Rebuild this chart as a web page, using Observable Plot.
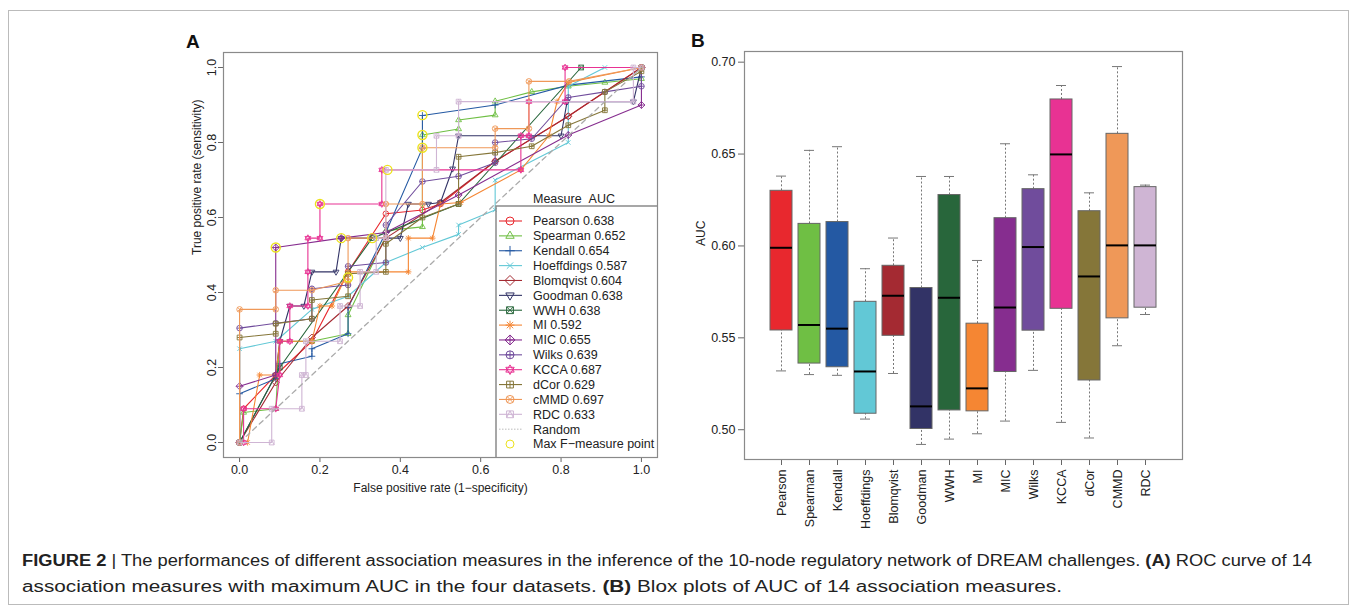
<!DOCTYPE html>
<html><head><meta charset="utf-8">
<script src="https://cdn.jsdelivr.net/npm/d3@7"></script>
<script src="https://cdn.jsdelivr.net/npm/@observablehq/plot@0.6"></script>
<style>
body{margin:0;background:#fff;width:1358px;height:612px;overflow:hidden;position:relative;font-family:"Liberation Sans",Arial,sans-serif;}
#border{position:absolute;left:8px;top:10px;width:1341px;height:595px;border:1px solid #bbb;box-sizing:border-box;}
#a{position:absolute;left:170px;top:25px;}
#b{position:absolute;left:680px;top:25px;}
#overlay{position:absolute;left:0;top:0;}
</style></head><body>
<div id="border"></div>
<div id="a"></div><div id="b"></div>
<svg id="overlay" width="1358" height="612"></svg>
<script>
// ---------------- DATA ----------------
const measuresA = ["Pearson","Spearman","Kendall","Hoeffdings","Blomqvist","Goodman","WWH","MI","MIC","Wilks","KCCA","dCor","cMMD","RDC"];
const measuresB = ["Pearson","Spearman","Kendall","Hoeffdings","Blomqvist","Goodman","WWH","MI","MIC","Wilks","KCCA","dCor","CMMD","RDC"];
const aucA = [0.638,0.652,0.654,0.587,0.604,0.638,0.638,0.592,0.655,0.639,0.687,0.629,0.697,0.633];
const colors = ["#e8282e","#6fbf44","#2459a3","#62c8d6","#a42a32","#323366","#28663b","#f58633","#862d8f","#704c9c","#e83293","#857639","#ef9858","#cfb5d4"];

// ROC curves (FPR, TPR)
const pearson = [[0,0],[0.01,0.09],[0.09,0.18],[0.18,0.27],[0.27,0.455],[0.364,0.61],[0.455,0.62],[0.5,0.636],[0.636,0.75],[0.818,0.87],[1,1]];
const spearman = [[0,0],[0.01,0.08],[0.09,0.09],[0.1,0.27],[0.18,0.27],[0.27,0.29],[0.27,0.34],[0.364,0.55],[0.364,0.565],[0.455,0.575],[0.455,0.82],[0.545,0.836],[0.545,0.86],[0.636,0.873],[0.636,0.91],[0.727,0.935],[0.818,0.95],[0.909,0.96],[1,0.97],[1,1]];
const kendall = [[0,0],[0,0.13],[0.09,0.17],[0.1,0.21],[0.18,0.23],[0.18,0.25],[0.27,0.29],[0.27,0.36],[0.364,0.56],[0.455,0.785],[0.455,0.872],[0.636,0.9],[0.818,0.953],[1,0.975],[1,1]];
const hoeffdings = [[0,0],[0,0.25],[0.09,0.27],[0.18,0.355],[0.27,0.39],[0.364,0.48],[0.455,0.52],[0.545,0.555],[0.545,0.58],[0.636,0.62],[0.636,0.7],[0.818,0.8],[0.818,0.95],[0.909,1],[1,1]];
const blomqvist = [[0,0],[0.09,0.16],[0.18,0.28],[0.27,0.364],[0.364,0.545],[0.5,0.64],[0.636,0.75],[0.818,0.87],[1,1]];
const goodman = [[0,0],[0.09,0.18],[0.1,0.27],[0.125,0.364],[0.16,0.364],[0.18,0.455],[0.24,0.455],[0.253,0.545],[0.4,0.545],[0.42,0.636],[0.47,0.636],[0.5,0.64],[0.53,0.73],[0.545,0.818],[0.8,0.818],[0.815,0.909],[0.98,0.909],[1,1]];
const wwh = [[0,0],[0.1,0.2],[0.33,0.545],[0.545,0.636],[0.85,1],[1,1]];
const mi = [[0,0],[0.02,0],[0.05,0.18],[0.09,0.18],[0.1,0.27],[0.18,0.27],[0.2,0.364],[0.23,0.364],[0.27,0.455],[0.42,0.455],[0.42,0.545],[0.48,0.545],[0.5,0.636],[0.55,0.64],[0.7,0.727],[0.77,0.818],[0.79,0.909],[0.818,0.96],[1,1]];
const mic = [[0,0],[0,0.15],[0.09,0.18],[0.09,0.52],[0.253,0.545],[0.364,0.56],[0.545,0.66],[0.818,0.82],[1,0.9],[1,1]];
const wilks = [[0,0],[0,0.305],[0.09,0.318],[0.18,0.33],[0.18,0.41],[0.27,0.42],[0.27,0.47],[0.364,0.48],[0.364,0.58],[0.455,0.696],[0.545,0.71],[0.636,0.746],[0.636,0.8],[0.727,0.81],[0.818,0.92],[0.909,0.935],[1,0.95],[1,1]];
const kcca = [[0,0],[0.01,0],[0.01,0.09],[0.09,0.09],[0.1,0.18],[0.1,0.27],[0.125,0.27],[0.125,0.364],[0.17,0.364],[0.17,0.455],[0.17,0.545],[0.2,0.545],[0.2,0.636],[0.354,0.636],[0.354,0.727],[0.7,0.727],[0.7,0.818],[0.72,0.818],[0.72,0.909],[0.81,0.909],[0.81,1],[1,1]];
const dcor = [[0,0],[0,0.28],[0.09,0.29],[0.09,0.317],[0.18,0.33],[0.18,0.38],[0.27,0.39],[0.27,0.45],[0.364,0.455],[0.364,0.53],[0.455,0.6],[0.545,0.636],[0.545,0.762],[0.636,0.773],[0.727,0.79],[0.818,0.846],[0.909,0.886],[0.909,0.935],[1,0.99],[1,1]];
const cmmd = [[0,0],[0,0.355],[0.09,0.355],[0.09,0.406],[0.18,0.406],[0.27,0.43],[0.27,0.545],[0.364,0.545],[0.364,0.636],[0.455,0.636],[0.455,0.786],[0.636,0.786],[0.636,0.837],[0.72,0.837],[0.72,0.963],[0.82,0.963],[1,1]];
const rdc = [[0,0],[0.08,0],[0.08,0.09],[0.155,0.09],[0.155,0.18],[0.165,0.18],[0.165,0.27],[0.25,0.27],[0.25,0.364],[0.3,0.364],[0.3,0.455],[0.34,0.455],[0.34,0.545],[0.364,0.545],[0.364,0.727],[0.49,0.727],[0.49,0.818],[0.545,0.818],[0.545,0.909],[0.98,0.909],[0.98,1],[1,1]];
const randomLine = [[0,0],[1,1]];
const maxF = [[0.09,0.52],[0.2,0.636],[0.253,0.545],[0.33,0.545],[0.27,0.44],[0.368,0.727],[0.455,0.873],[0.455,0.82],[0.455,0.786]];

// Box plot stats (panel B)
const whiskerLow = [0.532,0.530,0.5296,0.5058,0.5306,0.492,0.4949,0.4978,0.5047,0.5323,0.504,0.4955,0.5457,0.5627];
const q1 = [0.554,0.536,0.534,0.5087,0.5511,0.5004,0.5105,0.510,0.5314,0.5539,0.5658,0.5268,0.5606,0.5664];
const median = [0.599,0.557,0.555,0.5317,0.5729,0.5127,0.5718,0.5225,0.5665,0.5994,0.6498,0.5834,0.6003,0.6003];
const q3 = [0.630,0.612,0.613,0.5696,0.5892,0.5771,0.6277,0.5577,0.6151,0.6309,0.6797,0.6189,0.661,0.632];
const whiskerHigh = [0.638,0.652,0.654,0.5876,0.6043,0.6378,0.6378,0.5921,0.6556,0.6387,0.6873,0.6289,0.6976,0.6331];

const ticksA = [0,0.2,0.4,0.6,0.8,1.0];
const ticksB = [0.50,0.55,0.60,0.65,0.70];

// ---------------- SYMBOLS (R pch 1..14) ----------------
function sym(f){ return {draw(c, size){ f(c, Math.sqrt(size/Math.PI)); }}; }
const circ = (c,r)=>{c.moveTo(r,0); c.arc(0,0,r,0,2*Math.PI);};
const triU = (c,r)=>{c.moveTo(0,-r*1.2); c.lineTo(r*1.05,r*0.6); c.lineTo(-r*1.05,r*0.6); c.closePath();};
const triD = (c,r)=>{c.moveTo(0,r*1.2); c.lineTo(r*1.05,-r*0.6); c.lineTo(-r*1.05,-r*0.6); c.closePath();};
const plus = (c,r)=>{c.moveTo(-r,0); c.lineTo(r,0); c.moveTo(0,-r); c.lineTo(0,r);};
const times = (c,r)=>{const k=r*0.8; c.moveTo(-k,-k); c.lineTo(k,k); c.moveTo(-k,k); c.lineTo(k,-k);};
const diam = (c,r)=>{const k=r*1.25; c.moveTo(0,-k); c.lineTo(k,0); c.lineTo(0,k); c.lineTo(-k,0); c.closePath();};
const sq = (c,r)=>{const k=r*0.85; c.moveTo(-k,-k); c.lineTo(k,-k); c.lineTo(k,k); c.lineTo(-k,k); c.closePath();};
const symbols = [
  sym(circ),
  sym(triU),
  sym((c,r)=>plus(c,r*1.2)),
  sym(times),
  sym(diam),
  sym(triD),
  sym((c,r)=>{sq(c,r); times(c,r*1.06);}),
  sym((c,r)=>{plus(c,r*1.1); times(c,r*1.0);}),
  sym((c,r)=>{diam(c,r); plus(c,r*1.25);}),
  sym((c,r)=>{circ(c,r); plus(c,r);}),
  sym((c,r)=>{triU(c,r); triD(c,r);}),
  sym((c,r)=>{sq(c,r); plus(c,r*0.85);}),
  sym((c,r)=>{circ(c,r); times(c,r*0.88);}),
  sym((c,r)=>{sq(c,r); c.moveTo(0,-r*0.85); c.lineTo(r*0.85,r*0.85); c.moveTo(0,-r*0.85); c.lineTo(-r*0.85,r*0.85);})
];
const yellowSym = sym(circ);

const curves = [pearson,spearman,kendall,hoeffdings,blomqvist,goodman,wwh,mi,mic,wilks,kcca,dcor,cmmd,rdc];
const font = "Liberation Sans, Arial, Helvetica, sans-serif";
const fmt1 = d3.format(".1f");
const fmt2 = d3.format(".2f");

// ---------------- PANEL A ----------------
const seriesMarks = [];
curves.forEach((pts, i) => {
  seriesMarks.push(Plot.line(pts, {x: d=>d[0], y: d=>d[1], stroke: colors[i], strokeWidth: 1.1}));
  seriesMarks.push(Plot.dot(pts, {x: d=>d[0], y: d=>d[1], symbol: symbols[i], r: 2.8, fill: "none", stroke: colors[i], strokeWidth: 0.9}));
});

const plotA = Plot.plot({
  width: 500, height: 480, marginLeft: 53, marginRight: 13, marginTop: 27, marginBottom: 48,
  x: {domain: [-0.04, 1.04]},
  y: {domain: [-0.04, 1.04]},
  style: {fontFamily: font, fontSize: "12.5px", color: "#222", background: "transparent"},
  marks: [
    Plot.axisX({ticks: ticksA, tickSize: 5, tickPadding: 3, tickFormat: fmt1, label: null, stroke: "#666", fill: "#222"}),
    Plot.axisY({ticks: ticksA, tickSize: 5, tickFormat: () => "", label: null, stroke: "#666"}),
    Plot.text(ticksA, {y: d=>d, frameAnchor: "left", dx: -12, rotate: -90, text: d=>fmt1(d), textAnchor: "middle", lineAnchor: "middle", fill: "#222"}),
    Plot.text(["False positive rate (1\u2212specificity)"], {frameAnchor: "bottom", dy: 34, text: d=>d, fill: "#222", fontSize: 12}),
    Plot.text(["True positive rate (sensitivity)"], {frameAnchor: "left", dx: -26, rotate: -90, text: d=>d, fill: "#222", fontSize: 12}),
    ...seriesMarks,
    Plot.line(randomLine, {x: d=>d[0], y: d=>d[1], stroke: "#aaa", strokeWidth: 1.3, strokeDasharray: "5,4"}),
    Plot.dot(maxF, {x: d=>d[0], y: d=>d[1], symbol: yellowSym, r: 4.5, fill: "none", stroke: "#ece21c", strokeWidth: 1.4}),
    Plot.frame({stroke: "#8a8a8a", strokeWidth: 1.2})
  ]
});
document.getElementById("a").appendChild(plotA);

// ---------------- PANEL B ----------------
const boxData = measuresB.map((m, i) => ({m, lo: whiskerLow[i], q1: q1[i], med: median[i], q3: q3[i], hi: whiskerHigh[i], c: colors[i]}));
const plotB = Plot.plot({
  width: 520, height: 520, marginLeft: 64, marginRight: 18, marginTop: 26, marginBottom: 86,
  x: {domain: measuresB, paddingInner: 0.2, paddingOuter: 0.6727, align: 0.5},
  y: {domain: [0.4838, 0.7058]},
  color: {type: "identity"},
  style: {fontFamily: font, fontSize: "12.5px", color: "#222", background: "transparent"},
  marks: [
    Plot.axisY({ticks: ticksB, tickSize: 6, tickPadding: 3, tickFormat: fmt2, label: null, stroke: "#666", fill: "#222"}),
    Plot.axisX({tickSize: 6, tickFormat: () => "", label: null, stroke: "#666"}),
    Plot.text(measuresB, {x: d=>d, frameAnchor: "bottom", dy: 10, rotate: -90, textAnchor: "end", lineAnchor: "middle", text: d=>d, fill: "#222"}),
    Plot.text(["AUC"], {y: () => 0.6, frameAnchor: "left", dx: -43, rotate: -90, text: d=>d, fill: "#222", fontSize: 12}),
    Plot.ruleX(boxData, {x: "m", y1: "lo", y2: "q1", stroke: "#777", strokeDasharray: "2,2"}),
    Plot.ruleX(boxData, {x: "m", y1: "q3", y2: "hi", stroke: "#777", strokeDasharray: "2,2"}),
    Plot.tickY(boxData, {x: "m", y: "lo", insetLeft: 6, insetRight: 6, stroke: "#777"}),
    Plot.tickY(boxData, {x: "m", y: "hi", insetLeft: 6, insetRight: 6, stroke: "#777"}),
    Plot.barY(boxData, {x: "m", y1: "q1", y2: "q3", fill: "c", stroke: "#666", strokeWidth: 1}),
    Plot.tickY(boxData, {x: "m", y: "med", stroke: "#000", strokeWidth: 2}),
    Plot.frame({stroke: "#8a8a8a", strokeWidth: 1.2})
  ]
});
document.getElementById("b").appendChild(plotB);

// ---------------- OVERLAY: legend, panel letters, caption ----------------
const ov = d3.select("#overlay").style("font-family", font);
ov.append("text").attr("x", 186).attr("y", 48).attr("font-size", 19).attr("font-weight", "bold").attr("fill", "#111").text("A");
ov.append("text").attr("x", 691).attr("y", 47).attr("font-size", 19).attr("font-weight", "bold").attr("fill", "#111").text("B");

const lg = ov.append("g");
lg.append("rect").attr("x", 497).attr("y", 207).attr("width", 159).attr("height", 249).attr("fill", "#fff");
lg.append("path").attr("d", "M496,457V206H657").attr("stroke", "#8a8a8a").attr("stroke-width", 1.5).attr("fill", "none");
lg.append("text").attr("x", 533).attr("y", 199).attr("dy", "0.35em").attr("font-size", 12.5).attr("fill", "#222").text("Measure\u00a0\u00a0AUC");
const items = measuresA.map((m, i) => ({label: m + " " + aucA[i].toFixed(3), color: colors[i], sym: symbols[i], kind: "s"}));
items.push({label: "Random", color: "#bbb", kind: "r"});
items.push({label: "Max F\u2212measure point", color: "#ece21c", kind: "y"});
items.forEach((it, i) => {
  const y = 221 + i * 14.87;
  if (it.kind === "s") {
    lg.append("line").attr("x1", 499).attr("x2", 522).attr("y1", y).attr("y2", y).attr("stroke", it.color).attr("stroke-width", 1.1);
    lg.append("path").attr("transform", `translate(510,${y})`).attr("d", d3.symbol().type(it.sym).size(Math.PI * 16)()).attr("fill", "none").attr("stroke", it.color).attr("stroke-width", 1);
  } else if (it.kind === "r") {
    lg.append("line").attr("x1", 499).attr("x2", 522).attr("y1", y).attr("y2", y).attr("stroke", it.color).attr("stroke-width", 1).attr("stroke-dasharray", "1.5,1.5");
  } else {
    lg.append("circle").attr("cx", 510).attr("cy", y).attr("r", 4).attr("fill", "none").attr("stroke", it.color).attr("stroke-width", 1);
  }
  lg.append("text").attr("x", 533).attr("y", y).attr("dy", "0.35em").attr("font-size", 12.5).attr("fill", "#222").text(it.label);
});

const capFont = "'Liberation Sans Narrow', 'Liberation Sans', Arial, sans-serif";
const c1 = ov.append("text").attr("x", 22).attr("y", 566).attr("font-size", 16).attr("fill", "#222").style("font-family", capFont)
  .attr("textLength", 1290).attr("lengthAdjust", "spacingAndGlyphs");
c1.append("tspan").attr("font-weight", "bold").text("FIGURE 2");
c1.append("tspan").text(" | The performances of different association measures in the inference of the 10-node regulatory network of DREAM challenges. ");
c1.append("tspan").attr("font-weight", "bold").text("(A)");
c1.append("tspan").text(" ROC curve of 14");
const c2 = ov.append("text").attr("x", 22).attr("y", 592).attr("font-size", 16).attr("fill", "#222").style("font-family", capFont)
  .attr("textLength", 1040).attr("lengthAdjust", "spacingAndGlyphs");
c2.append("tspan").text("association measures with maximum AUC in the four datasets. ");
c2.append("tspan").attr("font-weight", "bold").text("(B)");
c2.append("tspan").text(" Blox plots of AUC of 14 association measures.");
</script></body></html>
